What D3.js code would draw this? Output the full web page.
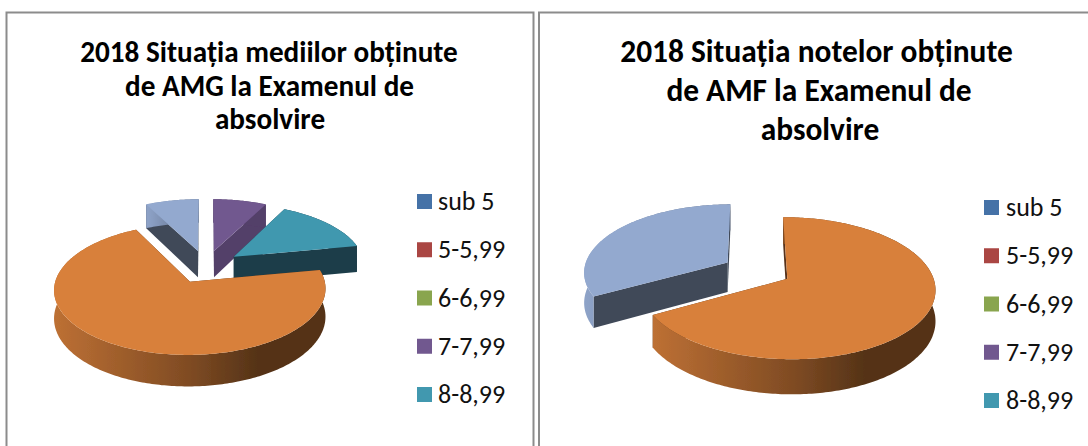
<!DOCTYPE html>
<html><head><meta charset="utf-8">
<script src="https://cdn.jsdelivr.net/npm/d3@7/dist/d3.min.js"></script>
<style>html,body{margin:0;padding:0;background:#fff;overflow:hidden}svg{display:block}</style>
</head><body><svg id="c" width="1088" height="446"></svg>
<script>
const categories = ["sub 5","5-5,99","6-6,99","7-7,99","8-8,99","9-9,99","10"];
const legendCategories = ["sub 5","5-5,99","6-6,99","7-7,99","8-8,99"];
const colors = ["#4572A7","#AA4643","#89A54E","#71588F","#4198AF","#D8803B","#93A9CF"];
const wallColors = ["#2a4464","#662a28","#52632f","#533f69","#1b3d49","#57321a","#3f4859"];
const valuesAMG = [0,0,0,7.5,14.5,70.5,7.5];
const valuesAMF = [0,0,0,0,0,67,33];
const titleAMG = ["2018 Situația mediilor obținute","de AMG la Examenul de","absolvire"];
const titleAMF = ["2018 Situația notelor obținute","de AMF la Examenul de","absolvire"];

const svg = d3.select("#c");
const defs = svg.append("defs");
const F = "Carlito, Calibri, Lato, sans-serif";
defs.append("filter").attr("id","soft").append("feGaussianBlur").attr("stdDeviation",0.45);

function frame(x0,x1){
  svg.append("path").attr("d",`M${x0},446V12.5H${x1}V446`).attr("fill","none").attr("stroke","#8c8c8c").attr("stroke-width",2);
}
frame(6.5,533.5); frame(539,1090);

function outerFill(id,a,xs){
  const base=colors[a.i];
  const stops = a.i===5 ? [[0,.37],[.5,1.5],[.75,2.6],[1,2.6]]
              : a.i===6 ? [[0,.1],[.12,.2],[1,1.5]] : null;
  if(!stops) return wallColors[a.i];
  const gid=`${id}g${a.i}`;
  const grad=defs.append("linearGradient").attr("id",gid).attr("gradientUnits","userSpaceOnUse")
    .attr("x1",d3.min(xs)).attr("x2",d3.max(xs)).attr("y1",0).attr("y2",0);
  stops.forEach(s=>grad.append("stop").attr("offset",s[0]).attr("stop-color",d3.color(base).darker(s[1]).formatHex()));
  return `url(#${gid})`;
}

function drawPie(id,values,o){
  const g = svg.append("g").attr("filter","url(#soft)");
  const arcs = d3.pie().sort(null).startAngle(o.start).endAngle(o.start+2*Math.PI)(values)
    .map((a,i)=>({...a,i})).filter(a=>a.value>0);
  const P = (px,py,z)=>{const w=1+o.k*py;return [o.cx+o.rx*px/w, o.cy-o.ry*py/w+o.D*z/w];};
  arcs.forEach(a=>{const m=(a.startAngle+a.endAngle)/2;a.ox=o.e*Math.sin(m);a.oy=o.e*Math.cos(m);});
  arcs.sort((a,b)=>b.oy-a.oy);
  const line=d3.line();
  arcs.forEach(a=>{
    const n=Math.max(4,Math.ceil((a.endAngle-a.startAngle)*60));
    const th=d3.range(n+1).map(j=>a.startAngle+(a.endAngle-a.startAngle)*j/n);
    const on=t=>[a.ox+Math.sin(t),a.oy+Math.cos(t)];
    [a.startAngle,a.endAngle].forEach(t=>{
      const q=on(t);
      g.append("path").attr("d",line([P(a.ox,a.oy,0),P(q[0],q[1],0),P(q[0],q[1],1),P(a.ox,a.oy,1)])+"Z").attr("fill",wallColors[a.i]);
    });
    const top=th.map(t=>P(...on(t),0)), bot=th.map(t=>P(...on(t),1)).reverse();
    g.append("path").attr("d",line(top.concat(bot))+"Z").attr("fill",outerFill(id,a,top.map(p=>p[0])));
    g.append("path").attr("d",line([P(a.ox,a.oy,0)].concat(top))+"Z").attr("fill",colors[a.i]);
  });
}

function title(lines,cx,ys,size){
  const t=svg.append("g").attr("font-family",F).attr("font-weight",700).attr("font-size",size).attr("text-anchor","middle").attr("fill","#000");
  lines.forEach((l,i)=>t.append("text").attr("x",cx[i]).attr("y",ys[i]).text(l));
}
function legend(x,ys,size,gap){
  const scale=d3.scalePoint().domain(legendCategories).range(ys);
  const g=svg.append("g").attr("font-family",F).attr("font-size",size).attr("fill","#111");
  legendCategories.forEach(c=>{
    const y=scale(c);
    g.append("rect").attr("x",x).attr("y",y-7.5).attr("width",15).attr("height",15).attr("fill",colors[categories.indexOf(c)]);
    g.append("text").attr("x",x+gap).attr("y",y+8.5).text(c);
  });
}

drawPie("a",valuesAMG,{cx:206,cy:266.5,rx:131,ry:61,k:.115,e:.27,D:27,start:0});
drawPie("b",valuesAMF,{cx:757,cy:270.5,rx:144,ry:67.6,k:.13,e:.24,D:30,start:-0.005});
title(titleAMG,[269,269.5,270],[62,96,129],29.2);
title(titleAMF,[816.5,819,820],[62,101,140],31.4);
legend(417,[201.5,394.5],26,21);
legend(984,[207.5,400.5],26,22);
</script></body></html>
